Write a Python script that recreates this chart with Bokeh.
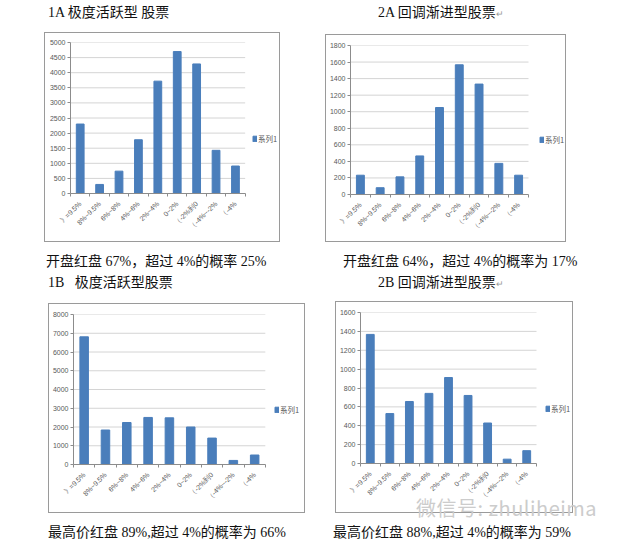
from math import pi
from bokeh.plotting import figure
from bokeh.layouts import column, row
from bokeh.models import (FixedTicker, Legend, LegendItem, Range1d, Div)
from bokeh.embed import file_html
from bokeh.resources import INLINE

categories = ["》=9.5%", "8%~9.5%", "6%~8%", "4%~6%", "2%~4%", "0~2%",
              "（-2%到0", "（-4%~-2%", "（-4%"]

values_1a = [2300, 300, 740, 1780, 3720, 4700, 4290, 1430, 910]
values_2a = [233, 82, 213, 466, 1051, 1567, 1334, 376, 233]
values_1b = [6810, 1840, 2240, 2510, 2490, 2000, 1410, 217, 506]
values_2b = [1368, 529, 657, 743, 911, 721, 429, 46, 136]

series_name = "系列1"
titles = ["1A 极度活跃型 股票", "2A 回调渐进型股票", "1B &nbsp;&nbsp;极度活跃型股票", "2B 回调渐进型股票"]
captions = ["开盘红盘 67%，超过 4%的概率 25%", "开盘红盘 64%，超过 4%的概率为 17%",
            "最高价红盘 89%,超过 4%的概率为 66%", "最高价红盘 88%,超过 4%的概率为 59%"]
watermark = "微信号: zhuliheima"

BAR = "#4a7ebb"
GRAY = "#595959"
LINE = "#8c8c8c"
TFONT = "'Liberation Serif', 'Noto Sans CJK SC'"


def chart(vals, ymax, ystep, W, H, mbl, mbt, mbb, bars_px, leg_px, margin):
    # W, H: outer size incl. 1px border; bars_px: pixel width of the category area
    n = len(categories)
    inner_w = W - 2
    frame_w = inner_w - mbl - 1
    x_end = n * frame_w / bars_px
    p = figure(x_range=Range1d(0, x_end), y_range=Range1d(0, ymax),
               width=W, height=H, min_border_left=mbl, min_border_right=1,
               min_border_top=mbt, min_border_bottom=mbb,
               output_backend="svg", toolbar_location=None, margin=margin,
               styles={"border": "1px solid #9a9a9a"})
    xs = [i + 0.5 for i in range(n)]
    yticks = list(range(0, ymax + 1, ystep))
    p.segment(x0=0, x1=n, y0=yticks[1:], y1=yticks[1:], line_color="#d4d4d4",
              line_width=1, level="underlay")
    r = p.vbar(x=xs, top=vals, width=0.4, color=BAR)
    p.outline_line_color = None
    p.xgrid.grid_line_color = None
    p.ygrid.grid_line_color = None
    p.yaxis.ticker = FixedTicker(ticks=yticks)
    p.xaxis.ticker = FixedTicker(ticks=xs, minor_ticks=list(range(n + 1)))
    p.xaxis.major_label_overrides = {x: c for x, c in zip(xs, categories)}
    p.xaxis.bounds = (0, n)
    for ax in (p.xaxis[0], p.yaxis[0]):
        ax.axis_line_color = LINE
        ax.major_label_text_color = GRAY
        ax.major_label_text_font = "Liberation Sans"
        ax.major_label_text_font_size = "7px"
    p.yaxis.minor_tick_line_color = None
    p.yaxis.major_tick_line_color = LINE
    p.yaxis.major_tick_in = 0
    p.yaxis.major_tick_out = 3
    p.yaxis.major_label_standoff = 2
    p.xaxis.major_tick_line_color = None
    p.xaxis.minor_tick_line_color = LINE
    p.xaxis.minor_tick_in = 0
    p.xaxis.minor_tick_out = 3
    p.xaxis.major_label_orientation = pi / 4
    p.xaxis.major_label_standoff = 3
    legend = Legend(items=[LegendItem(label=series_name, renderers=[r])],
                    location=leg_px, padding=0, margin=0, spacing=0,
                    glyph_width=5, glyph_height=7, label_height=10, label_standoff=1,
                    label_text_font_size="7.5px", label_text_color=GRAY,
                    label_text_font="Noto Sans CJK SC",
                    border_line_color=None, background_fill_alpha=0)
    p.add_layout(legend, "center")
    return p


def text_div(text, width, height, margin, size="14px", color="#111111", font=TFONT,
             extra=None):
    st = {"font-family": font, "font-size": size, "line-height": f"{height}px",
          "color": color, "white-space": "nowrap"}
    if extra:
        st.update(extra)
    return Div(text=text, width=width, height=height, margin=margin, styles=st)


ARROW = '<span style="font-size:9px;color:#999">↵</span>'

# top-left quadrant
t1a = text_div(titles[0], 262, 14, (6, 0, 0, 48))
f1a = chart(values_1a, 5000, 500, 236, 210, 25, 9, 50, 173, (182, 49), (12, 0, 0, 44))
c1a = text_div(captions[0], 264, 16, (12, 0, 0, 46))
q1a = column(t1a, f1a, c1a)

# top-right quadrant
t2a = text_div(titles[1] + ARROW, 240, 14, (6, 0, 0, 68))
f2a = chart(values_2a, 1800, 200, 241, 208, 22, 10, 49, 178, (189, 49), (14, 0, 0, 15))
c2a = text_div(captions[1], 270, 16, (12, 0, 0, 33))
q2a = column(t2a, f2a, c2a)

# bottom-left quadrant
t1b = text_div(titles[2], 262, 14, (6, 0, 0, 48))
f1b = chart(values_1b, 8000, 1000, 257, 210, 23, 10, 50, 191, (201, 49), (13, 0, 0, 48))
c1b = text_div(captions[2], 262, 16, (12, 0, 0, 48))
q1b = column(t1b, f1b, c1b)

# bottom-right quadrant
t2b = text_div(titles[3] + ARROW, 240, 14, (6, 0, 0, 68))
f2b = chart(values_2b, 1600, 200, 238, 212, 22, 10, 51, 176, (185, 49), (11, 0, 0, 25))
wm = text_div(watermark, 190, 20, (-15, 0, 0, 106), size="20px", color="#cccccc",
              font="'Noto Sans CJK SC'", extra={"letter-spacing": "0.5px"})
c2b = text_div(captions[3], 277, 16, (7, 0, 0, 23))
q2b = column(t2b, f2b, wm, c2b)

layout = column(row(q1a, q2a), row(q1b, q2b))
open("out.html", "w").write(file_html(layout, INLINE))
